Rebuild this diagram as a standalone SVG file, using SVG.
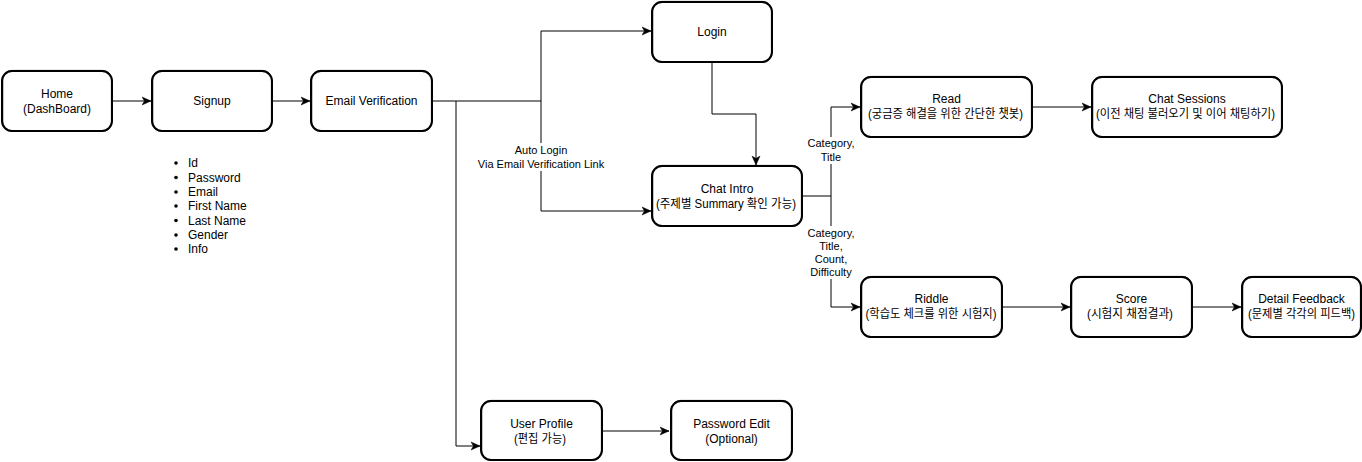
<svg xmlns="http://www.w3.org/2000/svg" width="1362" height="462" viewBox="0 0 1362 462">
<style>
.box{fill:#fff;stroke:#000;stroke-width:2;}
.box2{fill:none;stroke:#000;stroke-width:0.8;}
.t{font-family:"Liberation Sans","Noto Sans CJK KR",sans-serif;font-size:12px;fill:#000;text-anchor:middle;}
.lbl{font-family:"Liberation Sans","Noto Sans CJK KR",sans-serif;font-size:11px;fill:#000;text-anchor:middle;}
.li{font-family:"Liberation Sans",sans-serif;font-size:12px;fill:#000;}
.edge{fill:none;stroke:#000;stroke-width:1;}
</style>
<defs>
<marker id="arr" markerWidth="10" markerHeight="10" refX="9" refY="5" orient="auto" markerUnits="userSpaceOnUse">
<path d="M0,1 L9,5 L0,9 L2.5,5 Z" fill="#000" stroke="#000" stroke-width="0.5"/>
</marker>
</defs>
<rect width="1362" height="462" fill="#fff"/>

<g id="connectors">
<path class="edge" d="M112,101 H151" marker-end="url(#arr)"/>
<path class="edge" d="M272,101 H310" marker-end="url(#arr)"/>
<path class="edge" d="M432,101 H541 V31 H651" marker-end="url(#arr)"/>
<path class="edge" d="M541,101 V211 H651" marker-end="url(#arr)"/>
<path class="edge" d="M456,101 V446 H480" marker-end="url(#arr)"/>
<path class="edge" d="M712,62 V114 H756 V165" marker-end="url(#arr)"/>
<path class="edge" d="M802,196 H831 V107 H860" marker-end="url(#arr)"/>
<path class="edge" d="M831,196 V307 H860" marker-end="url(#arr)"/>
<path class="edge" d="M1032,107 H1091" marker-end="url(#arr)"/>
<path class="edge" d="M1002,307 H1070" marker-end="url(#arr)"/>
<path class="edge" d="M1192,307 H1241" marker-end="url(#arr)"/>
<path class="edge" d="M602,431 H669" marker-end="url(#arr)"/>
<rect x="478" y="143" width="126" height="28" fill="#fff"/>
<text class="lbl" x="541" y="154">Auto Login</text>
<text class="lbl" x="541" y="168">Via Email Verification Link</text>
<rect x="806" y="137" width="50" height="27" fill="#fff"/>
<text class="lbl" x="831" y="147">Category,</text>
<text class="lbl" x="831" y="161">Title</text>
<rect x="806" y="226" width="50" height="53" fill="#fff"/>
<text class="lbl" x="831" y="237">Category,</text>
<text class="lbl" x="831" y="250">Title,</text>
<text class="lbl" x="831" y="263">Count,</text>
<text class="lbl" x="831" y="276">Difficulty</text>
</g>

<g id="home">
<rect class="box" x="2" y="71" width="110" height="60" rx="10"/>
<rect class="box2" x="2.8" y="70.4" width="108.6" height="61" rx="9"/>
<text class="t" x="57" y="98">Home</text>
<text class="t" x="57" y="113">(DashBoard)</text>
</g>

<g id="signup">
<rect class="box" x="152" y="71" width="120" height="60" rx="10"/>
<rect class="box2" x="152.8" y="70.4" width="118.6" height="61" rx="9"/>
<text class="t" x="212" y="105">Signup</text>
</g>

<g id="signup-fields">
<circle cx="176" cy="163" r="1.8"/><text class="li" x="188" y="167">Id</text>
<circle cx="176" cy="177.5" r="1.8"/><text class="li" x="188" y="181.5">Password</text>
<circle cx="176" cy="192" r="1.8"/><text class="li" x="188" y="196">Email</text>
<circle cx="176" cy="206" r="1.8"/><text class="li" x="188" y="210">First Name</text>
<circle cx="176" cy="220.5" r="1.8"/><text class="li" x="188" y="224.5">Last Name</text>
<circle cx="176" cy="235" r="1.8"/><text class="li" x="188" y="239">Gender</text>
<circle cx="176" cy="249" r="1.8"/><text class="li" x="188" y="253">Info</text>
</g>

<g id="email-verification">
<rect class="box" x="311" y="71" width="121" height="60" rx="10"/>
<rect class="box2" x="311.8" y="70.4" width="119.6" height="61" rx="9"/>
<text class="t" x="371.5" y="105">Email Verification</text>
</g>

<g id="login">
<rect class="box" x="652" y="2" width="120" height="60" rx="10"/>
<rect class="box2" x="652.8" y="1.4" width="118.6" height="61" rx="9"/>
<text class="t" x="712" y="36">Login</text>
</g>

<g id="chat-intro">
<rect class="box" x="652" y="166" width="150" height="60" rx="10"/>
<rect class="box2" x="652.8" y="165.4" width="148.6" height="61" rx="9"/>
<text class="t" x="727" y="193">Chat Intro</text>
<text class="t" x="726" y="208" textLength="140" lengthAdjust="spacingAndGlyphs">(주제별 Summary 확인 가능)</text>
</g>

<g id="read">
<rect class="box" x="861" y="77" width="171" height="60" rx="10"/>
<rect class="box2" x="861.8" y="76.4" width="169.6" height="61" rx="9"/>
<text class="t" x="946.5" y="103">Read</text>
<text class="t" x="945.5" y="118" textLength="155" lengthAdjust="spacingAndGlyphs">(궁금증 해결을 위한 간단한 챗봇)</text>
</g>

<g id="chat-sessions">
<rect class="box" x="1092" y="77" width="190" height="60" rx="10"/>
<rect class="box2" x="1092.8" y="76.4" width="188.6" height="61" rx="9"/>
<text class="t" x="1187" y="103">Chat Sessions</text>
<text class="t" x="1185.5" y="118" textLength="179" lengthAdjust="spacingAndGlyphs">(이전 채팅 불러오기 및 이어 채팅하기)</text>
</g>

<g id="riddle">
<rect class="box" x="861" y="277" width="141" height="60" rx="10"/>
<rect class="box2" x="861.8" y="276.4" width="139.6" height="61" rx="9"/>
<text class="t" x="931.5" y="303">Riddle</text>
<text class="t" x="931" y="318" textLength="131" lengthAdjust="spacingAndGlyphs">(학습도 체크를 위한 시험지)</text>
</g>

<g id="score">
<rect class="box" x="1071" y="277" width="121" height="60" rx="10"/>
<rect class="box2" x="1071.8" y="276.4" width="119.6" height="61" rx="9"/>
<text class="t" x="1131.5" y="303">Score</text>
<text class="t" x="1130" y="318" textLength="86" lengthAdjust="spacingAndGlyphs">(시험지 채점결과)</text>
</g>

<g id="detail-feedback">
<rect class="box" x="1242" y="277" width="119" height="60" rx="10"/>
<rect class="box2" x="1242.8" y="276.4" width="117.6" height="61" rx="9"/>
<text class="t" x="1301.5" y="303">Detail Feedback</text>
<text class="t" x="1301.5" y="318" textLength="107" lengthAdjust="spacingAndGlyphs">(문제별 각각의 피드백)</text>
</g>

<g id="user-profile">
<rect class="box" x="481" y="401" width="121" height="59" rx="10"/>
<rect class="box2" x="481.8" y="400.4" width="119.6" height="60" rx="9"/>
<text class="t" x="541.5" y="428">User Profile</text>
<text class="t" x="540" y="443" textLength="52" lengthAdjust="spacingAndGlyphs">(편집 가능)</text>
</g>

<g id="password-edit">
<rect class="box" x="671" y="401" width="121" height="59" rx="10"/>
<rect class="box2" x="671.8" y="400.4" width="119.6" height="60" rx="9"/>
<text class="t" x="731.5" y="428">Password Edit</text>
<text class="t" x="731.5" y="443">(Optional)</text>
</g>
</svg>
